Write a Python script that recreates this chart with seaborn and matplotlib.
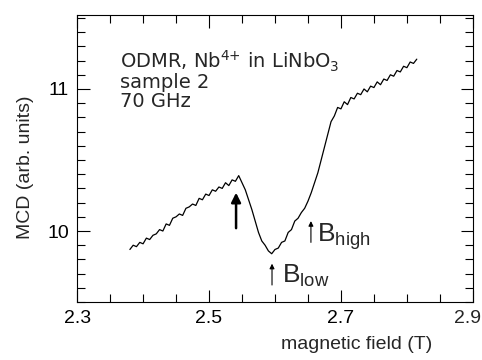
import numpy as np
import pandas as pd
import seaborn as sns
import matplotlib.pyplot as plt
from matplotlib.ticker import MultipleLocator, FixedLocator, FixedFormatter

# magnetic field (T) and MCD signal (arb. units)
field = [2.380, 2.385, 2.390, 2.395, 2.400, 2.405, 2.410, 2.415, 2.420, 2.425,
         2.430, 2.435, 2.440, 2.445, 2.450, 2.455, 2.460, 2.465, 2.470, 2.475,
         2.480, 2.485, 2.490, 2.495, 2.500, 2.505, 2.510, 2.515, 2.520, 2.525,
         2.530, 2.535, 2.540, 2.545, 2.550, 2.555, 2.560, 2.565, 2.570, 2.575,
         2.580, 2.585, 2.590, 2.595, 2.600, 2.605, 2.610, 2.615, 2.620, 2.625,
         2.630, 2.635, 2.640, 2.645, 2.650, 2.655, 2.660, 2.665, 2.670, 2.675,
         2.680, 2.685, 2.690, 2.695, 2.700, 2.705, 2.710, 2.715, 2.720, 2.725,
         2.730, 2.735, 2.740, 2.745, 2.750, 2.755, 2.760, 2.765, 2.770, 2.775,
         2.780, 2.785, 2.790, 2.795, 2.800, 2.805, 2.810, 2.815]
mcd = [9.87, 9.90, 9.89, 9.92, 9.91, 9.95, 9.94, 9.97, 9.98, 10.01,
       10.00, 10.05, 10.04, 10.09, 10.10, 10.12, 10.11, 10.16, 10.17, 10.19,
       10.18, 10.23, 10.22, 10.26, 10.25, 10.29, 10.28, 10.31, 10.30, 10.34,
       10.32, 10.36, 10.35, 10.39, 10.34, 10.29, 10.22, 10.15, 10.07, 9.99,
       9.93, 9.90, 9.86, 9.84, 9.87, 9.88, 9.92, 9.93, 9.99, 10.01,
       10.07, 10.09, 10.13, 10.16, 10.21, 10.27, 10.34, 10.41, 10.50, 10.59,
       10.68, 10.77, 10.81, 10.87, 10.86, 10.91, 10.89, 10.94, 10.93, 10.97,
       10.96, 11.00, 10.98, 11.02, 11.01, 11.05, 11.03, 11.07, 11.06, 11.10,
       11.09, 11.13, 11.12, 11.16, 11.15, 11.19, 11.18, 11.21]

x_ticks = [2.3, 2.5, 2.7, 2.9]
x_labels = ["2.3", "2.5", "2.7", "2.9"]
y_ticks = [10, 11]
info_lines = ["ODMR, Nb$^{4{+}}$ in LiNbO$_3$", "sample 2", "70 GHz"]

sns.set_style("ticks")
plt.rcParams["font.family"] = ["Liberation Sans", "DejaVu Sans"]
plt.rcParams["mathtext.default"] = "regular"
plt.rcParams["axes.linewidth"] = 0.8

df = pd.DataFrame({"field": field, "mcd": mcd})

fig = plt.figure(figsize=(4.82, 3.60), dpi=100)
ax = fig.add_axes([0.160, 0.161, 0.821, 0.797])

sns.lineplot(data=df, x="field", y="mcd", color="black", linewidth=0.9, ax=ax)

ax.set_xlim(2.3, 2.9)
ax.set_ylim(9.5, 11.52)
ax.xaxis.set_major_locator(FixedLocator(x_ticks))
ax.xaxis.set_minor_locator(MultipleLocator(0.05))
ax.yaxis.set_major_locator(FixedLocator(y_ticks))
ax.yaxis.set_minor_locator(MultipleLocator(0.1))
# last label sits against the figure edge, drawn separately below
ax.xaxis.set_major_formatter(FixedFormatter(x_labels[:-1] + [""]))
ax.tick_params(which="major", direction="in", top=True, right=True,
               width=0.8, length=9, pad=6, colors="black", labelsize=14)
ax.tick_params(which="minor", direction="in", top=True, right=True,
               width=0.8, length=5.5, colors="black")
for s in ax.spines.values():
    s.set_color("black")
ax.annotate(x_labels[-1], xy=(1, 0), xycoords="axes fraction",
            xytext=(6, -6), textcoords="offset points",
            ha="right", va="top", fontsize=14)

ax.set_xlabel("magnetic field (T)", fontsize=14)
ax.set_ylabel("MCD (arb. units)", fontsize=14)
ax.xaxis.set_label_coords(0.707, -0.12)
ax.yaxis.set_label_coords(-0.11, 0.47)

for i, line in enumerate(info_lines):
    ax.text(0.108, 0.815 - i * 0.068, line, transform=ax.transAxes,
            fontsize=14, va="baseline", ha="left", family="DejaVu Sans")

# thick arrow at the maximum
ax.annotate("", xy=(2.541, 10.27), xytext=(2.541, 10.02),
            arrowprops=dict(arrowstyle="-|>", color="black", lw=1.8,
                            mutation_scale=14, shrinkA=0, shrinkB=0))
# small arrows with labels
ax.annotate("", xy=(2.5955, 9.77), xytext=(2.5955, 9.62),
            arrowprops=dict(arrowstyle="-|>", color="black", lw=0.8,
                            mutation_scale=7, shrinkA=0, shrinkB=0))
ax.text(2.611, 9.635, "B$_{low}$", fontsize=19, va="baseline", ha="left")
ax.annotate("", xy=(2.6545, 10.07), xytext=(2.6545, 9.92),
            arrowprops=dict(arrowstyle="-|>", color="black", lw=0.8,
                            mutation_scale=7, shrinkA=0, shrinkB=0))
ax.text(2.664, 9.925, "B$_{high}$", fontsize=19, va="baseline", ha="left")

fig.savefig("out.png", dpi=100)
